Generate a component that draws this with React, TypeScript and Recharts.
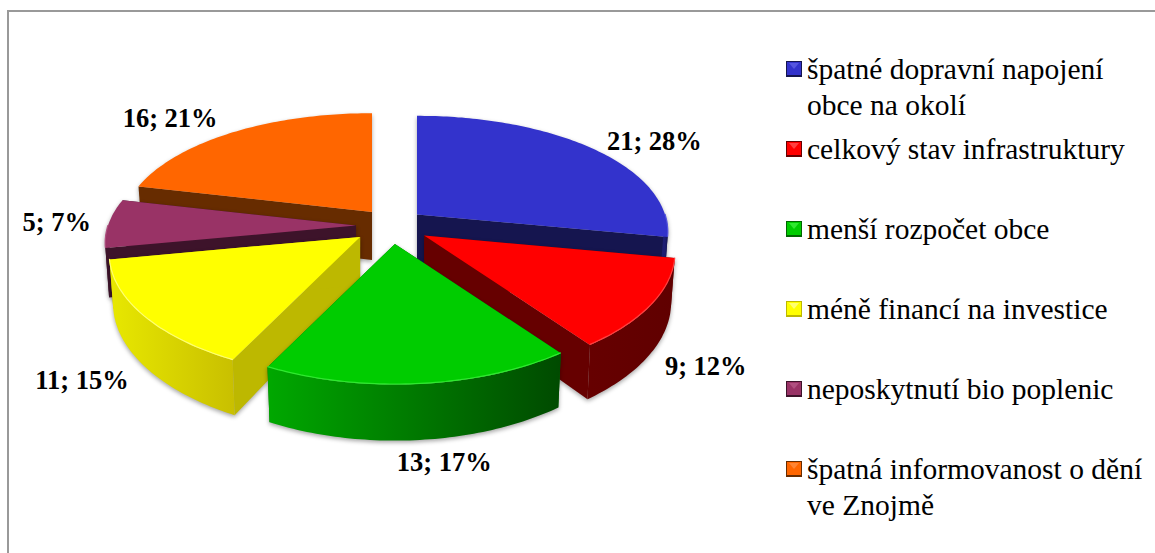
import React from 'react';
import { PieChart, Pie, Legend } from 'recharts';

const categories = [
  'špatné dopravní napojení obce na okolí',
  'celkový stav infrastruktury',
  'menší rozpočet obce',
  'méně financí na investice',
  'neposkytnutí bio poplenic',
  'špatná informovanost o dění ve Znojmě',
];
const values = [21, 9, 13, 11, 5, 16];

const topColors = ['#3333cc', '#ff0000', '#00cc00', '#ffff00', '#993366', '#ff6600'];
const highlightColors = ['#5555e0', '#ff4040', '#30e830', '#ffff70', '#b05080', '#ff8533'];
const wallColors = ['#15154f', '#660000', '#006600', '#bdb800', '#3d132a', '#672c00'];
const outerFrom = ['#1d1d72', '#660000', '#00a800', '#e8e800', '#3d132a', '#672c00'];
const outerTo = ['#15154f', '#600000', '#004a00', '#c9c000', '#3d132a', '#672c00'];

// rough pixel nudges from the rim of each slice to where its label sits
const labelNudge = [
  [63, -7],
  [54, 62],
  [25, 78],
  [-61, 65],
  [-52, -1],
  [-64, -14],
];
// the slices in the picture are not perfectly exploded, small x fixes per slice
const apexNudgeX = [-1, 3.5, 1, -3, 0, 2.7];

// back to front, svg has no z-index so each slice gets its own Pie
const drawOrder = [5, 0, 4, 3, 1, 2];

const chartData = categories.map((name, i) => ({ name, value: values[i] }));
const total = values.reduce((a, b) => a + b, 0);

const CX = 391;
const CY = 226;
const OUTER = 248;
const TILT = 116 / 248; // flattening of the disc
const PERSP_X = 0.15;
const PERSP_Y = 0.175;
const EXPLODE_X = 35;
const EXPLODE_Y = 18;
const DEPTH = 48;

const rad = (d: number) => (d * Math.PI) / 180;

// t = degrees clockwise from 12 o'clock, returns offset from the slice apex
const rim = (t: number, R: number) => {
  const x = Math.sin(rad(t));
  const y = -Math.cos(rad(t));
  const s = 1 / (1 - PERSP_Y * y);
  return { dx: (R * x) / (1 - PERSP_X * y), dy: R * TILT * y * s, s };
};

const apexOf = (index: number, mid: number, cx: number, cy: number) => ({
  x: cx + EXPLODE_X * Math.sin(rad(mid)) + apexNudgeX[index],
  y: cy - EXPLODE_Y * Math.cos(rad(mid)),
});

const range = (a: number, b: number) => {
  const out: number[] = [];
  for (let t = a; t < b; t += 1) out.push(t);
  out.push(b);
  return out;
};

const slice3d = (layer: number) => (props: any) => {
  const { index, startAngle, endAngle, cx, cy, outerRadius } = props;
  if (index !== layer) return <g />;

  const t0 = 90 - startAngle;
  const t1 = 90 - endAngle;
  const apex = apexOf(index, (t0 + t1) / 2, cx, cy);

  const top = (t: number) => {
    const p = rim(t, outerRadius);
    return [apex.x + p.dx, apex.y + p.dy];
  };
  const bottom = (t: number) => {
    const p = rim(t, outerRadius);
    return [apex.x + p.dx * 0.985, apex.y + p.dy * 0.985 + DEPTH * p.s];
  };
  const apexLow = [apex.x, apex.y + DEPTH];
  const poly = (pts: number[][]) => 'M' + pts.map((p) => p[0].toFixed(1) + ',' + p[1].toFixed(1)).join('L') + 'Z';
  const wall = (t: number) => poly([[apex.x, apex.y], top(t), bottom(t), apexLow]);

  const arc = range(t0, t1);
  const frontFrom = Math.max(t0, 90);
  const frontTo = Math.min(t1, 270);
  const front = frontFrom < frontTo ? range(frontFrom, frontTo) : [];
  const outerPath = front.length ? poly([...front.map(top), ...front.slice().reverse().map(bottom)]) : '';
  const xs = front.map((t) => top(t)[0]);
  const gradId = 'outer' + index;

  return (
    <g style={{ filter: 'drop-shadow(0px 2px 2px rgba(0,0,0,0.35))' }}>
      {front.length > 0 && (
        <defs>
          <linearGradient id={gradId} gradientUnits="userSpaceOnUse" x1={Math.min(...xs)} y1="0" x2={Math.max(...xs)} y2="0">
            <stop offset="0" stopColor={outerFrom[index]} />
            <stop offset="1" stopColor={outerTo[index]} />
          </linearGradient>
        </defs>
      )}
      <path d={wall(t0)} fill={wallColors[index]} />
      <path d={wall(t1)} fill={wallColors[index]} />
      {outerPath && <path d={outerPath} fill={`url(#${gradId})`} />}
      <path d={poly([[apex.x, apex.y], ...arc.map(top)])} fill={topColors[index]} />
      {front.length > 0 && (
        <path
          d={'M' + front.map(top).map((p) => p[0].toFixed(1) + ',' + (p[1] - 0.5).toFixed(1)).join('L')}
          fill="none"
          stroke={highlightColors[index]}
          strokeWidth={1.2}
        />
      )}
    </g>
  );
};

const renderLabel = (props: any) => {
  const { cx, cy, midAngle, outerRadius, index } = props;
  const t = 90 - midAngle;
  const apex = apexOf(index, t, cx, cy);
  const p = rim(t, outerRadius);
  const share = Math.round((values[index] / total) * 100);
  return (
    <text
      x={apex.x + p.dx + labelNudge[index][0]}
      y={apex.y + p.dy + labelNudge[index][1]}
      textAnchor="middle"
      dominantBaseline="central"
      fontFamily="'Liberation Serif', serif"
      fontWeight="bold"
      fontSize={26.5}
      fill="#000"
    >
      {values[index]}; {share}%
    </text>
  );
};

const LegendBox = () => (
  <div style={{ position: 'relative', width: 365, height: 470 }}>
    {categories.map((name, i) => (
      <div key={name} style={{ position: 'absolute', left: 0, top: i * 80, width: 365, display: 'flex' }}>
        <svg width={16} height={16} style={{ marginTop: 9, flex: 'none' }}>
          <rect width={16} height={16} fill={wallColors[i]} />
          <rect x={1} y={1} width={14} height={13} fill={topColors[i]} />
          <path d="M3,2L13,2L8,8Z" fill={highlightColors[i]} />
        </svg>
        <div
          style={{
            marginLeft: 5,
            width: 340,
            fontFamily: "'Liberation Serif', serif",
            fontSize: 29.5,
            lineHeight: '36px',
            marginTop: -1,
            color: '#000',
          }}
        >
          {name}
        </div>
      </div>
    ))}
  </div>
);

export default function App() {
  return (
    <div style={{ position: 'absolute', left: 0, top: 0, width: 1155, height: 553, overflow: 'hidden', background: '#fff' }}>
      <div style={{ position: 'absolute', left: 7, top: 10, width: 1148, height: 543, borderLeft: '2px solid #999', borderTop: '2px solid #999' }} />
      <PieChart width={1155} height={553} margin={{ top: 0, right: 0, bottom: 0, left: 0 }} style={{ position: 'absolute', left: 0, top: 0 }}>
        {drawOrder.map((layer) => (
          <Pie
            key={layer}
            data={chartData}
            dataKey="value"
            nameKey="name"
            cx={CX}
            cy={CY}
            outerRadius={OUTER}
            startAngle={90}
            endAngle={-270}
            paddingAngle={0}
            stroke="none"
            isAnimationActive={false}
            shape={slice3d(layer)}
            label={layer === drawOrder[drawOrder.length - 1] ? renderLabel : false}
            labelLine={false}
          />
        ))}
        <Legend content={<LegendBox />} layout="vertical" wrapperStyle={{ position: 'absolute', left: 786, top: 52, width: 365, bottom: 'auto', right: 'auto' }} />
      </PieChart>
    </div>
  );
}
